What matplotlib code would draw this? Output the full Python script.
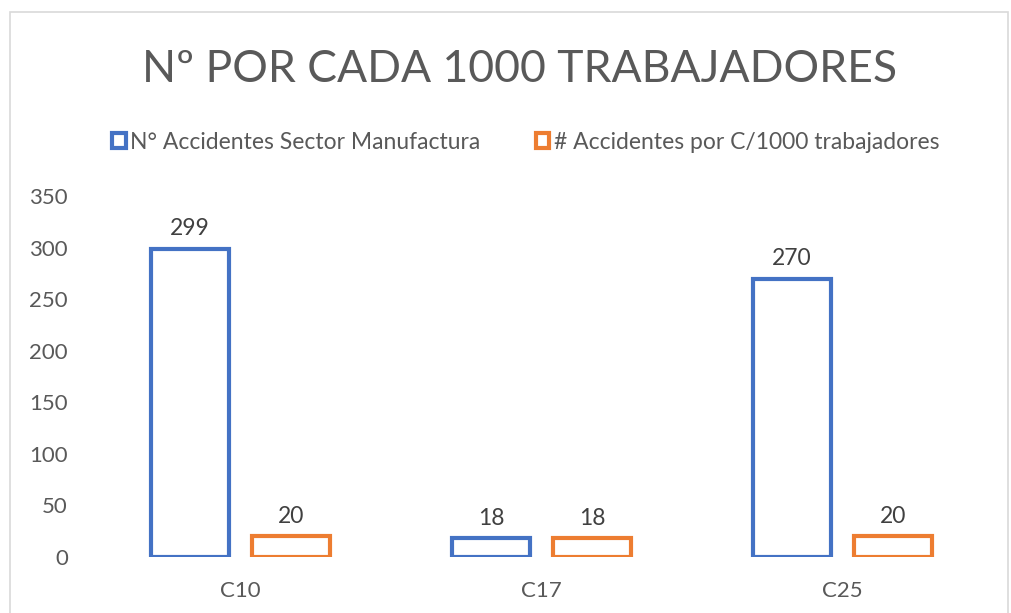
import numpy as np
import matplotlib.pyplot as plt
from matplotlib.patches import Rectangle

categories = ["C10", "C17", "C25"]
accidentes = [299, 18, 270]
por_mil = [20, 18, 20]
series_names = ["N° Accidentes Sector Manufactura", "# Accidentes por C/1000 trabajadores"]
title = "Nº POR CADA 1000 TRABAJADORES"

blue = "#4472C4"
orange = "#ED7D31"
gray = "#595959"

plt.rcParams['font.family'] = ['Lato', 'DejaVu Sans']

fig = plt.figure(figsize=(10.11, 6.13), dpi=100)
ax = fig.add_axes([90 / 1011, (613 - 557) / 613, (993 - 90) / 1011, (557 - 196) / 613])

x = np.arange(len(categories))
w = 0.262
off = 0.168
b1 = ax.bar(x - off, accidentes, w, facecolor="white", edgecolor=blue, linewidth=3, label=series_names[0])
b2 = ax.bar(x + off, por_mil, w, facecolor="white", edgecolor=orange, linewidth=3, label=series_names[1])
ax.bar_label(b1, padding=7, fontsize=16.5, color="#404040")
ax.bar_label(b2, padding=7, fontsize=16.5, color="#404040")

ax.set_xlim(-0.5, 2.5)
ax.set_ylim(0, 350)
ax.set_yticks(range(0, 351, 50))
ax.set_xticks(x)
ax.set_xticklabels(categories)
ax.tick_params(axis="both", length=0, labelsize=16, colors=gray)
ax.tick_params(axis="x", pad=17)
ax.tick_params(axis="y", pad=16)
for s in ax.spines.values():
    s.set_visible(False)

fig.text(0.514, 0.886, title, ha="center", va="center", fontsize=32, color=gray)
leg = fig.legend(loc="center", bbox_to_anchor=(0.52, 0.768), ncol=2, frameon=False,
                 fontsize=16.5, labelcolor=gray, handlelength=0.6, handleheight=0.6,
                 handletextpad=0.2, columnspacing=2.4)

# chart border
fig.patches.append(Rectangle((10 / 1011, -0.05), 998 / 1011, (613 - 12) / 613 + 0.05,
                             transform=fig.transFigure, fill=False, edgecolor="#D9D9D9", linewidth=1.2))

fig.savefig("out.png", dpi=100)
